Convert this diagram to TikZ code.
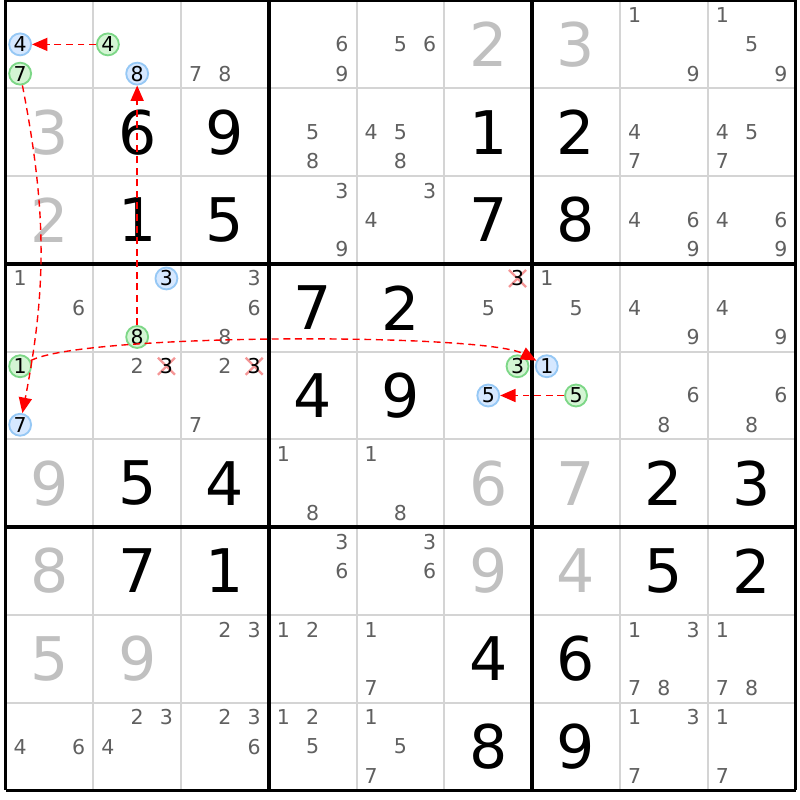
\documentclass[tikz,border=0pt]{standalone}
\usepackage{fontspec}
\setmainfont{DejaVu Sans}
\usetikzlibrary{arrows.meta}

\definecolor{givengray}{RGB}{192,192,192}
\definecolor{candgray}{RGB}{96,96,96}
\definecolor{gridgray}{RGB}{212,212,212}
\definecolor{bluefill}{RGB}{214,232,255}
\definecolor{blueline}{RGB}{150,200,245}
\definecolor{greenfill}{RGB}{212,245,212}
\definecolor{greenline}{RGB}{125,215,135}
\definecolor{crosspink}{RGB}{245,150,150}

\begin{document}
\begin{tikzpicture}[x=2cm,y=-2cm,>={Triangle[length=10pt,width=8.5pt]},
	thinline/.style={gridgray, line width=1.2pt},
	thickline/.style={black, line width=2.2pt},
	given/.style={text=givengray, font=\fontsize{39}{39}\selectfont, inner sep=0pt},
	solved/.style={given, text=black},
	cand/.style={text=candgray, font=\fontsize{13.3}{13.3}\selectfont, inner sep=0pt},
	bluecand/.style={cand, text=black, circle, draw=blueline, fill=bluefill, line width=1.2pt, minimum size=0.5cm},
	greencand/.style={bluecand, draw=greenline, fill=greenfill},
	xmark/.style={crosspink, line width=1.5pt},
	link/.style={->, red, dash pattern=on 4.5pt off 3pt, line width=0.9pt}]
	
	\fill[white] (-0.0627,-0.0057) rectangle (9.0513,9.108);
	\useasboundingbox (-0.0627,-0.0057) rectangle (9.0513,9.108);
	
	% grid
	\foreach \i in {0,...,9} {
		\draw[thinline] (\i,0) -- (\i,9);
		\draw[thinline] (0,\i) -- (9,\i);
	}
	\foreach \i in {0,3,6,9} {
		\draw[thickline] (\i,0) -- (\i,9);
		\draw[thickline] (0,\i) -- (9,\i);
	}
	
	% givens
	\foreach \r/\c/\v in {0/5/2, 0/6/3, 1/0/3, 2/0/2, 5/0/9, 5/5/6, 5/6/7,
		6/0/8, 6/5/9, 6/6/4, 7/0/5, 7/1/9}
		\node[given] (g\r\c) at (\c+0.5,\r+0.5) {\v};
	
	% solved cells
	\foreach \r/\c/\v in {1/1/6, 1/2/9, 1/5/1, 1/6/2, 2/1/1, 2/2/5, 2/5/7, 2/6/8,
		3/3/7, 3/4/2, 4/3/4, 4/4/9, 5/1/5, 5/2/4, 5/7/2, 5/8/3,
		6/1/7, 6/2/1, 6/7/5, 6/8/2, 7/5/4, 7/6/6, 8/5/8, 8/6/9}
		\node[solved] (s\r\c) at (\c+0.5,\r+0.5) {\v};
	
	% candidates
	\foreach \r/\c/\ds in {0/2/{7,8}, 0/3/{6,9}, 0/4/{5,6}, 0/7/{1,9}, 0/8/{1,5,9},
		1/3/{5,8}, 1/4/{4,5,8}, 1/7/{4,7}, 1/8/{4,5,7},
		2/3/{3,9}, 2/4/{3,4}, 2/7/{4,6,9}, 2/8/{4,6,9},
		3/0/{1,6}, 3/2/{3,6,8}, 3/5/{5}, 3/6/{1,5}, 3/7/{4,9}, 3/8/{4,9},
		4/1/{2}, 4/2/{2,7}, 4/7/{6,8}, 4/8/{6,8},
		5/3/{1,8}, 5/4/{1,8}, 6/3/{3,6}, 6/4/{3,6},
		7/2/{2,3}, 7/3/{1,2}, 7/4/{1,7}, 7/7/{1,3,7,8}, 7/8/{1,7,8},
		8/0/{4,6}, 8/1/{2,3,4}, 8/2/{2,3,6}, 8/3/{1,2,5}, 8/4/{1,5,7},
		8/7/{1,3,7}, 8/8/{1,7}}
		\foreach \d in \ds
			\node[cand] (n\r\c\d) at ({\c+(mod(\d-1,3)+0.5)/3},{\r+(floor((\d-1)/3)+0.5)/3}) {\d};
	
	% eliminated candidates
	\foreach \r/\c in {3/5, 4/1, 4/2} {
		\draw[xmark] ({\c+5/6-0.097},{\r+1/6-0.097}) -- ++(0.194,0.194);
		\draw[xmark] ({\c+5/6-0.097},{\r+1/6+0.097}) -- ++(0.194,-0.194);
		\node[cand, text=black] (n\r\c3) at ({\c+5/6},{\r+1/6}) {3};
	}
	
	% chain candidates
	\foreach \r/\c/\d in {0/0/4, 0/1/8, 3/1/3, 4/0/7, 4/5/5, 4/6/1}
		\node[bluecand] (n\r\c\d) at ({\c+(mod(\d-1,3)+0.5)/3},{\r+(floor((\d-1)/3)+0.5)/3}) {\d};
	\foreach \r/\c/\d in {0/0/7, 0/1/4, 3/1/8, 4/0/1, 4/5/3, 4/6/5}
		\node[greencand] (n\r\c\d) at ({\c+(mod(\d-1,3)+0.5)/3},{\r+(floor((\d-1)/3)+0.5)/3}) {\d};
	
	\path[link]
	(n014) edge (n004)
	(n007) edge [bend left=11] (n407)
	(n318) edge (n018)
	(n401) edge [bend left=28, looseness=0.3] (n461)
	(n465) edge (n455);
	
\end{tikzpicture}
\end{document}
